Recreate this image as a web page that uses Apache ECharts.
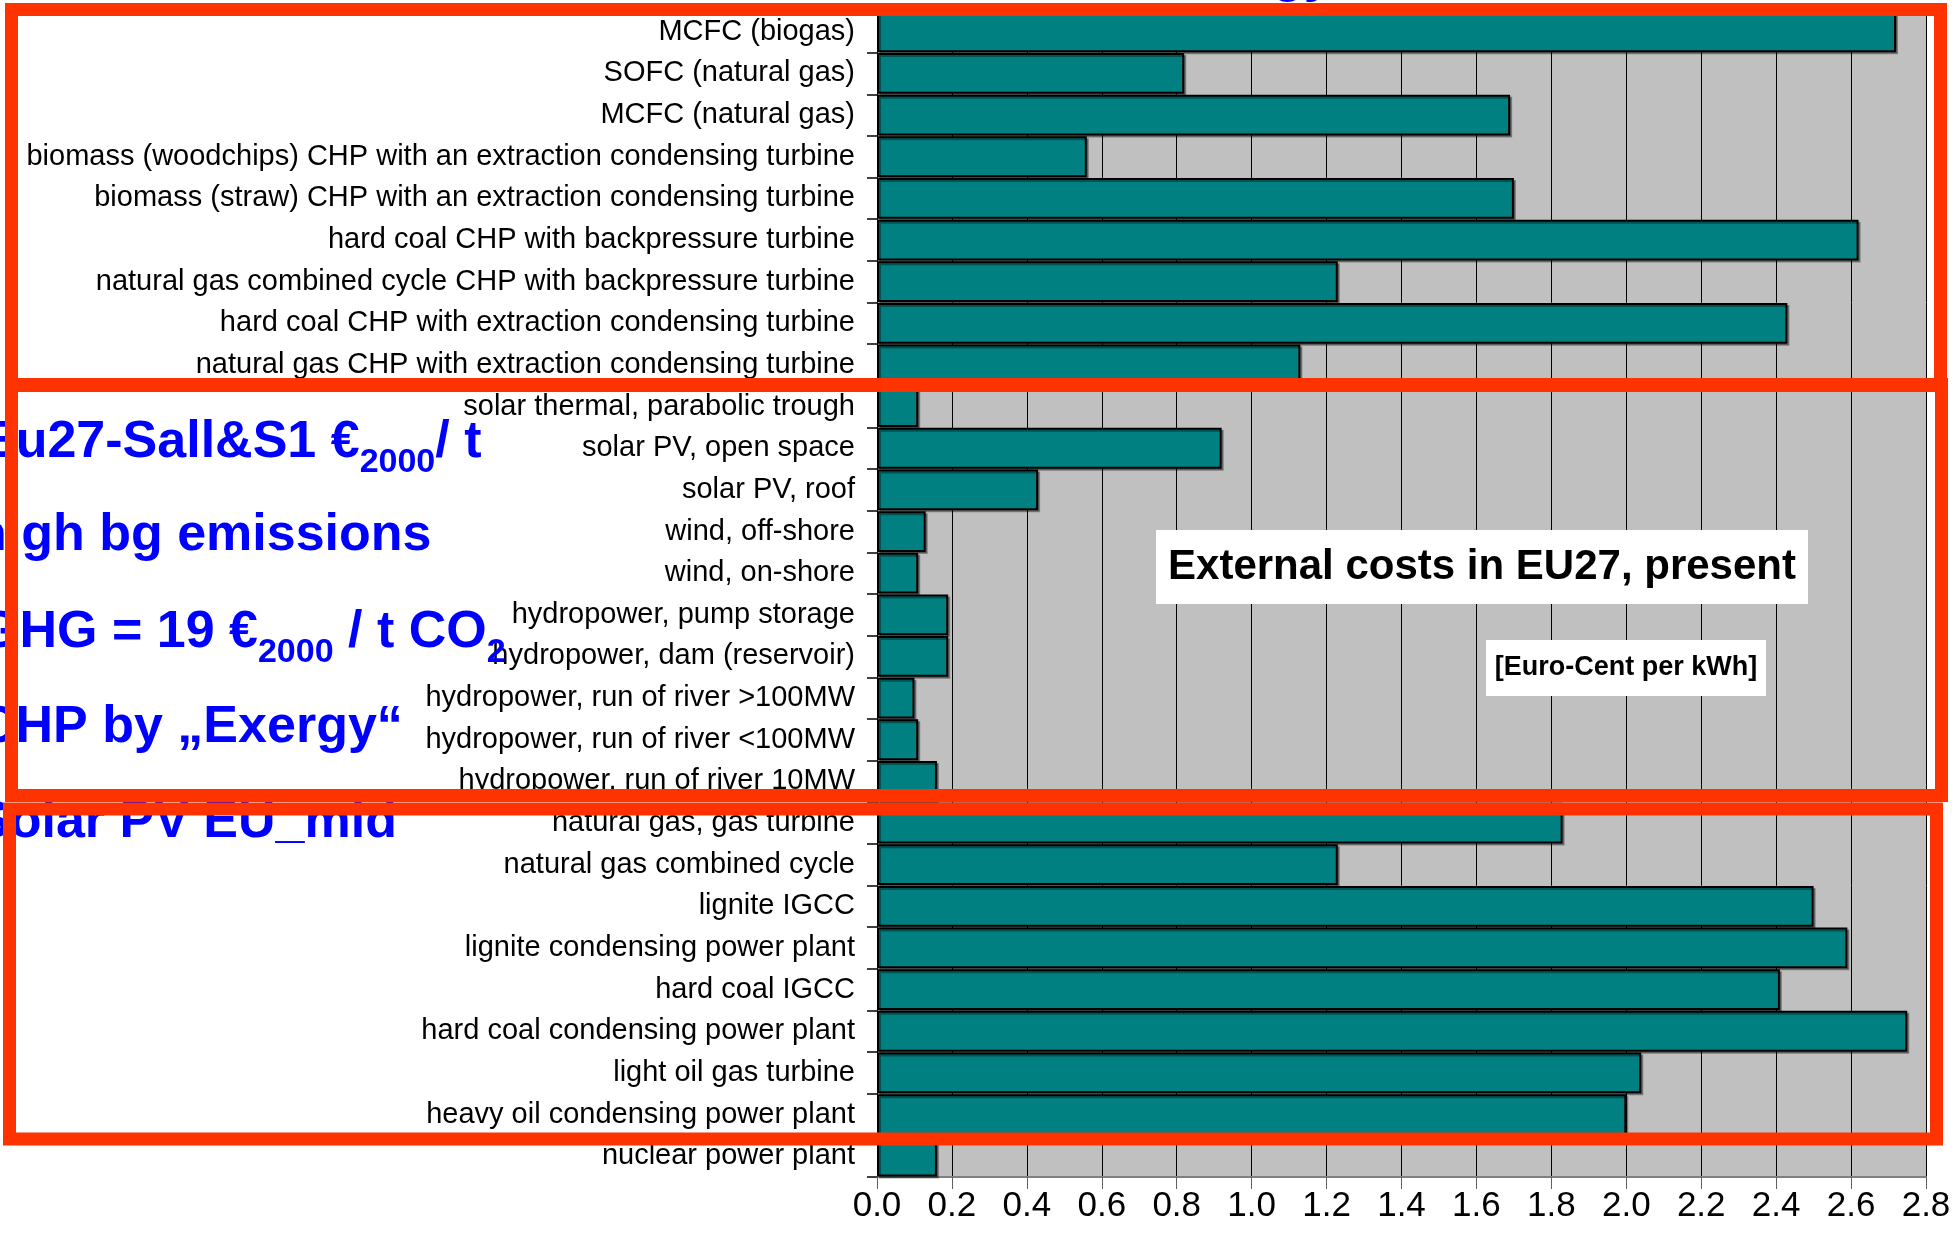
<!DOCTYPE html>
<html>
<head>
<meta charset="utf-8">
<script src="https://cdn.jsdelivr.net/npm/echarts@6.0.0/dist/echarts.min.js"></script>
<style>
  html, body { margin: 0; padding: 0; background: #fff; }
  #chart { width: 1954px; height: 1255px; }
</style>
</head>
<body>
<div id="chart"></div>
<script>
// technologies, top to bottom as in the slide
const categories = [
    "MCFC (biogas)",
    "SOFC (natural gas)",
    "MCFC (natural gas)",
    "biomass (woodchips) CHP with an extraction condensing turbine",
    "biomass (straw) CHP with an extraction condensing turbine",
    "hard coal CHP with backpressure turbine",
    "natural gas combined cycle CHP with backpressure turbine",
    "hard coal CHP with extraction condensing turbine",
    "natural gas CHP with extraction condensing turbine",
    "solar thermal, parabolic trough",
    "solar PV, open space",
    "solar PV, roof",
    "wind, off-shore",
    "wind, on-shore",
    "hydropower, pump storage",
    "hydropower, dam (reservoir)",
    "hydropower, run of river >100MW",
    "hydropower, run of river <100MW",
    "hydropower, run of river 10MW",
    "natural gas, gas turbine",
    "natural gas combined cycle",
    "lignite IGCC",
    "lignite condensing power plant",
    "hard coal IGCC",
    "hard coal condensing power plant",
    "light oil gas turbine",
    "heavy oil condensing power plant",
    "nuclear power plant"
];

// external costs, Euro-Cent per kWh
const externalCosts = [
    2.72, 0.82, 1.69, 0.56, 1.70, 2.62, 1.23, 2.43, 1.13,
    0.11, 0.92, 0.43, 0.13, 0.11, 0.19, 0.19, 0.10, 0.11, 0.16,
    1.83, 1.23, 2.50, 2.59, 2.41, 2.75, 2.04, 2.00, 0.16
];

// x axis
const axisMin = 0;
const axisMax = 2.8;
const axisStep = 0.2;

const chartTitle = "External costs in EU27, present";
const unitText = "[Euro-Cent per kWh]";

// blue slide notes on the left (partly off the slide), parts: [text, isSubscript]
const noteLines = [
    { x: -19, base: 461, parts: [["Eu27-Sall&S1 €", 0], ["2000", 1], ["/ t", 0]] },
    { x: -25, base: 554, parts: [["high bg emissions", 0]] },
    { x: -21, base: 651, parts: [["GHG = 19 €", 0], ["2000", 1], [" / t CO", 0], ["2", 1]] },
    { x: -22, base: 746, parts: [["CHP by „Exergy“", 0]] },
    { x: -25, base: 841, parts: [["Solar PV EU_mid", 0]] }
];

const FONT = '"Liberation Sans", Arial, sans-serif';
const BLUE = "#0000FF";
const RED = "#FF3300";

// measure text to lay out the subscripts
const measureCtx = document.createElement("canvas").getContext("2d");
function textWidth(str, size) {
    measureCtx.font = "bold " + size + "px " + FONT;
    return measureCtx.measureText(str).width;
}

const graphics = [];

// notes
noteLines.forEach(line => {
    let x = line.x;
    line.parts.forEach(p => {
        const size = p[1] ? 34 : 52;
        const base = p[1] ? line.base + 14 : line.base;
        graphics.push({
            type: "text",
            z: 50,
            x: x,
            y: base - size * 0.35,
            style: {
                text: p[0],
                fill: BLUE,
                fontSize: size,
                fontWeight: "bold",
                fontFamily: FONT,
                textAlign: "left",
                verticalAlign: "middle"
            }
        });
        x += textWidth(p[0], size);
    });
});

// descenders of a title hidden under the top frame
graphics.push({
    type: "text", z: 50, x: 1272, y: -5 - 52 * 0.35,
    style: { text: "gy", fill: BLUE, fontSize: 52, fontWeight: "bold", fontFamily: FONT, verticalAlign: "middle" }
});

// white boxes with title and unit
graphics.push(
    { type: "rect", z: 50, shape: { x: 1156, y: 530, width: 652, height: 74 }, style: { fill: "#fff" } },
    {
        type: "text", z: 51, x: 1482, y: 567,
        style: { text: chartTitle, fill: "#000", fontSize: 42, fontWeight: "bold", fontFamily: FONT, textAlign: "center", verticalAlign: "middle" }
    },
    { type: "rect", z: 50, shape: { x: 1486, y: 640, width: 280, height: 56 }, style: { fill: "#fff" } },
    {
        type: "text", z: 51, x: 1626, y: 668,
        style: { text: unitText, fill: "#000", fontSize: 27, fontWeight: "bold", fontFamily: FONT, textAlign: "center", verticalAlign: "middle" }
    }
);

// red frames drawn over the slide
[
    [11.5, 9.5, 1929, 376],
    [11.5, 384.5, 1930, 411],
    [9.5, 809, 1927, 330]
].forEach(r => {
    graphics.push({
        type: "rect", z: 100,
        shape: { x: r[0], y: r[1], width: r[2], height: r[3] },
        style: { fill: null, stroke: RED, lineWidth: 13 }
    });
});

const option = {
    animation: false,
    backgroundColor: "#fff",
    grid: {
        left: 877,
        right: 28,
        top: 11,
        bottom: 78,
        show: true,
        backgroundColor: "#C0C0C0",
        borderWidth: 0
    },
    xAxis: {
        type: "value",
        min: axisMin,
        max: axisMax,
        interval: axisStep,
        axisLine: { show: true, lineStyle: { color: "#808080", width: 2 } },
        axisTick: { show: true, length: 12, lineStyle: { color: "#606060", width: 1 } },
        axisLabel: {
            color: "#000",
            fontSize: 35,
            fontFamily: FONT,
            margin: 12,
            formatter: v => v.toFixed(1)
        },
        splitLine: { show: true, lineStyle: { color: "#000", width: 1 } }
    },
    yAxis: {
        type: "category",
        inverse: true,
        data: categories,
        axisLine: { show: true, lineStyle: { color: "#000", width: 1 } },
        axisTick: { show: true, length: 10, lineStyle: { color: "#404040", width: 2 } },
        axisLabel: {
            color: "#000",
            fontSize: 29,
            fontFamily: FONT,
            margin: 22,
            interval: 0
        }
    },
    series: [{
        type: "bar",
        data: externalCosts,
        barCategoryGap: "2%",
        itemStyle: {
            color: "#008080",
            borderColor: "#000",
            borderWidth: 2,
            shadowColor: "rgba(0,0,0,0.35)",
            shadowOffsetX: 2,
            shadowOffsetY: 2,
            shadowBlur: 0
        }
    }],
    graphic: graphics
};

const chart = echarts.init(document.getElementById("chart"));
chart.setOption(option);
</script>
</body>
</html>
